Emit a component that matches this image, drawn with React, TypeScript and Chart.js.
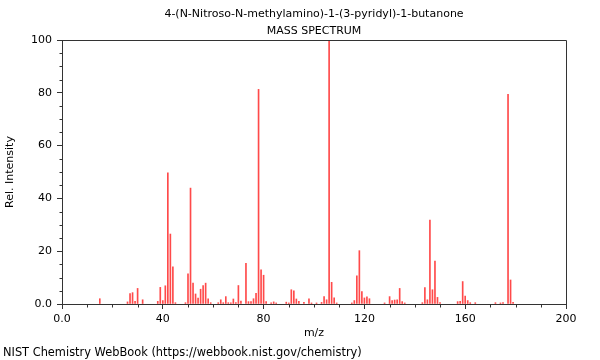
import React, { useEffect, useRef } from 'react';
import { Chart, registerables } from 'chart.js';

Chart.register(...registerables);

const titleLines = ['4-(N-Nitroso-N-methylamino)-1-(3-pyridyl)-1-butanone', 'MASS SPECTRUM'];
const footerText = 'NIST Chemistry WebBook (https://webbook.nist.gov/chemistry)';
const xAxisTitle = 'm/z';
const yAxisTitle = 'Rel. Intensity';

const mz = [
  15, 26, 27, 28, 29, 30, 32, 38, 39, 40, 41, 42, 43, 44, 45, 49, 50, 51, 52, 53,
  54, 55, 56, 57, 58, 59, 62, 63, 64, 65, 66, 67, 68, 69, 70, 71, 73, 74, 75, 76,
  77, 78, 79, 80, 81, 83, 84, 85, 89, 90, 91, 92, 93, 94, 96, 98, 99, 101, 103, 104,
  105, 106, 107, 108, 109, 115, 116, 117, 118, 119, 120, 121, 122, 128, 130, 131, 132, 133, 134, 135,
  136, 143, 144, 145, 146, 147, 148, 149, 150, 157, 158, 159, 160, 161, 162, 164, 172, 174, 175, 177,
  178, 179,
];
const intensity = [
  2.0, 0.8, 3.9, 4.3, 1.0, 5.9, 1.6, 1.0, 6.3, 1.3, 6.9, 49.7, 26.5, 14.1, 0.5, 0.5, 11.4, 43.9, 7.9, 3.8,
  2.2, 5.6, 7.0, 7.9, 2.0, 0.5, 0.5, 1.6, 0.5, 2.8, 0.5, 0.4, 1.9, 0.5, 7.0, 1.1, 15.4, 0.9, 0.9, 2.0,
  4.0, 81.3, 12.9, 10.9, 0.9, 0.4, 0.8, 0.4, 0.7, 0.4, 5.4, 5.0, 1.9, 1.0, 0.6, 2.0, 0.4, 0.4, 0.6, 2.8,
  1.6, 100, 8.2, 2.3, 0.4, 0.4, 1.3, 10.7, 20.2, 4.7, 2.3, 2.7, 2.0, 0.4, 2.8, 1.3, 1.5, 1.6, 5.9, 0.9,
  0.4, 0.5, 6.2, 1.6, 31.8, 5.4, 16.3, 2.5, 0.5, 0.9, 1.0, 8.5, 3.0, 1.3, 0.5, 0.5, 0.5, 0.4, 0.5, 79.4,
  9.1, 0.6,
];

const xRange = [0, 200];
const yRange = [0, 100];
const xMajorStep = 40;
const xMinorStep = 10;
const yMajorStep = 20;
const yMinorStep = 5;

const FONT = '"DejaVu Sans", sans-serif';
const AXIS_COLOR = '#333333';

const fmt = (v: number) => (v === 0 ? '0.0' : String(v));

const decorPlugin = {
  id: 'decor',
  afterDraw(chart: any) {
    const { ctx, chartArea: a, scales } = chart;
    ctx.save();
    ctx.strokeStyle = AXIS_COLOR;
    ctx.lineWidth = 1;
    const L = Math.round(a.left) + 0.5;
    const T = Math.round(a.top) + 0.5;
    const R = Math.round(a.right) + 0.5;
    const B = Math.round(a.bottom) + 0.5;
    ctx.beginPath();
    ctx.moveTo(L, T);
    ctx.lineTo(R, T);
    ctx.lineTo(R, B);
    ctx.stroke();
    // minor ticks
    ctx.beginPath();
    for (let v = xRange[0]; v <= xRange[1]; v += xMinorStep) {
      if (v % xMajorStep === 0) continue;
      const px = Math.round(scales.x.getPixelForValue(v)) + 0.5;
      ctx.moveTo(px, B);
      ctx.lineTo(px, B + 3);
    }
    for (let v = yRange[0]; v <= yRange[1]; v += yMinorStep) {
      if (v % yMajorStep === 0) continue;
      const py = Math.round(scales.y.getPixelForValue(v)) + 0.5;
      ctx.moveTo(L, py);
      ctx.lineTo(L - 3, py);
    }
    ctx.stroke();
    // titles & footer
    ctx.fillStyle = '#000000';
    ctx.font = '11px ' + FONT;
    ctx.textBaseline = 'middle';
    ctx.textAlign = 'center';
    const cx = (a.left + a.right) / 2;
    ctx.fillText(titleLines[0], cx, 14);
    ctx.fillText(titleLines[1], cx, 31);
    ctx.textAlign = 'left';
    ctx.font = '11.4px ' + FONT;
    ctx.fillText(footerText, 3, 353);
    ctx.restore();
  },
};

export default function App() {
  const ref = useRef<HTMLCanvasElement | null>(null);

  useEffect(() => {
    if (!ref.current) return;
    const data = mz.map((m, i) => ({ x: m, y: intensity[i] }));
    const chart = new Chart(ref.current, {
      type: 'bar',
      data: {
        datasets: [
          {
            data,
            backgroundColor: '#ff4a4a',
            borderWidth: 0,
            barThickness: 1,
          } as any,
        ],
      },
      options: {
        animation: false,
        responsive: false,
        events: [],
        layout: { padding: { top: 40, right: 34, bottom: 16, left: 0 } },
        plugins: {
          legend: { display: false },
          tooltip: { enabled: false },
          title: { display: false },
        },
        scales: {
          x: {
            type: 'linear',
            min: xRange[0],
            max: xRange[1],
            offset: false,
            grid: {
              offset: false,
              drawOnChartArea: false,
              drawTicks: true,
              tickLength: 5,
              tickColor: AXIS_COLOR,
            },
            border: { display: true, color: AXIS_COLOR },
            ticks: {
              stepSize: xMajorStep,
              maxRotation: 0,
              autoSkip: false,
              padding: 4,
              color: '#000000',
              font: { family: FONT, size: 11 },
              callback: (v: any) => fmt(Number(v)),
            },
            title: {
              display: true,
              text: xAxisTitle,
              color: '#000000',
              font: { family: FONT, size: 11 },
              padding: { top: 4, bottom: 4 },
            },
            afterFit: (s: any) => {
              s.height = 40;
            },
          },
          y: {
            type: 'linear',
            min: yRange[0],
            max: yRange[1],
            grid: {
              drawOnChartArea: false,
              drawTicks: true,
              tickLength: 5,
              tickColor: AXIS_COLOR,
            },
            border: { display: true, color: AXIS_COLOR },
            ticks: {
              stepSize: yMajorStep,
              padding: 5,
              color: '#000000',
              font: { family: FONT, size: 11 },
              callback: (v: any) => fmt(Number(v)),
            },
            title: {
              display: true,
              text: yAxisTitle,
              color: '#000000',
              font: { family: FONT, size: 11 },
              padding: { top: 4, bottom: 4 },
            },
            afterFit: (s: any) => {
              s.width = 62;
            },
          },
        },
      } as any,
      plugins: [decorPlugin],
    });
    return () => chart.destroy();
  }, []);

  return (
    <div style={{ position: 'absolute', left: 0, top: 0, width: 600, height: 360, background: '#ffffff' }}>
      <canvas ref={ref} width={600} height={360} style={{ display: 'block' }} />
    </div>
  );
}
